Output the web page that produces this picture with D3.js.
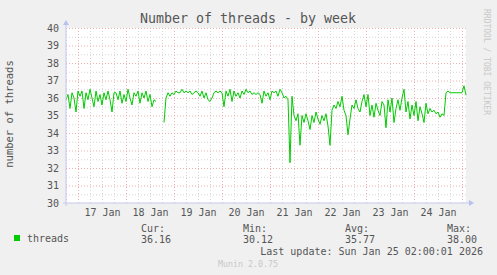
<!DOCTYPE html>
<script src="https://d3js.org/d3.v7.min.js"></script>

<html lang="en">
<head>
  <meta charset="utf-8">
  <title>Number of threads - by week</title>
</head>
<body>
</body>
</html>

<style media="screen">
* {
  margin: 0;
  padding: 0;
}
body {
  background: #f0f0f0;
  font-family: 'DejaVu Sans Mono', monospace;
}
.grid .domain { display: none; }
.grid text { display: none; }
</style>

<script>
let w = 497;
let h = 275;
let plotLeft = 66, plotRight = 466, plotTop = 28, plotBottom = 203;

// hourly samples, starting Fri Jan 16 18:00 (null = no data)
let startTime = new Date(2026, 0, 16, 18, 0, 0);
let endTime = new Date(2026, 0, 25, 2, 0, 0);
let threads = [
  35.9, 36.2, 35.4, 36.3, 36.0, 35.2, 36.4, 36.1, 36.4, 35.4,
  36.3, 35.9, 36.5, 36.0, 35.5, 36.4, 35.8, 36.2, 35.6, 36.3,
  35.9, 36.4, 35.9, 35.2, 36.3, 36.3, 35.9, 36.4, 35.7, 36.2,
  35.8, 36.5, 36.0, 35.6, 36.3, 36.1, 36.4, 35.7, 36.3, 36.0,
  36.4, 35.8, 36.2, 35.5, 35.9, 35.8, null, null, null, 34.6,
  36.0, 36.3, 36.1, 36.3, 36.2, 36.4, 36.3, 36.3, 36.5, 36.3,
  36.4, 36.3, 36.4, 36.2, 36.3, 36.4, 36.3, 36.1, 36.4, 36.0,
  36.3, 35.9, 35.8, 36.0, 36.3, 36.4, 36.3, 36.4, 36.3, 35.5,
  36.4, 36.1, 36.5, 35.8, 36.4, 36.1, 36.3, 36.0, 36.4, 36.2,
  36.5, 36.3, 36.4, 36.2, 36.3, 36.2, 36.3, 36.2, 35.7, 36.4,
  36.1, 36.3, 35.9, 36.4, 36.3, 36.4, 36.1, 36.5, 36.3, 36.0,
  36.1, 35.9, 32.3, 36.1, 35.0, 34.7, 35.1, 33.3, 35.0, 34.6,
  35.1, 34.7, 34.2, 35.0, 34.6, 35.2, 34.8, 34.5, 35.0, 34.7,
  35.1, 34.4, 33.3, 35.3, 35.6, 35.4, 35.8, 35.5, 36.1, 35.3,
  35.0, 33.9, 34.8, 35.6, 35.4, 35.9, 35.4, 35.2, 35.8, 36.2,
  35.5, 36.2, 35.0, 35.6, 34.9, 35.7, 35.3, 35.0, 35.8, 35.6,
  34.3, 35.9, 35.2, 36.0, 34.6, 35.4, 35.9, 35.3, 36.0, 36.5,
  35.2, 35.8, 34.8, 35.6, 35.0, 35.8, 34.7, 35.5, 35.1, 34.6,
  35.7, 35.1, 35.4, 35.2, 35.3, 35.1, 35.2, 34.9, 35.1, 35.0,
  36.3, 36.4, 36.3, 36.3, 36.3, 36.3, 36.3, 36.3, 36.3, 36.7,
  36.16
];

let days = [17, 18, 19, 20, 21, 22, 23, 24];
let yTicks = [30, 31, 32, 33, 34, 35, 36, 37, 38, 39, 40];
let statLabels = ["Cur:", "Min:", "Avg:", "Max:"];
let statValues = ["36.16", "30.12", "35.77", "38.00"];

let xScale = d3.scaleTime().domain([startTime, endTime]).range([plotLeft, plotRight]);
let yScale = d3.scaleLinear().domain([30, 40]).range([plotBottom, plotTop]);

let svg = d3.select("body")
  .append("svg")
    .attr("width", w)
    .attr("height", h)
    .style("display", "block");

svg.append("rect")
  .attr("width", w).attr("height", h).attr("fill", "#f0f0f0");

svg.append("rect")
  .attr("x", plotLeft).attr("y", plotTop)
  .attr("width", plotRight - plotLeft).attr("height", plotBottom - plotTop)
  .attr("fill", "#fff");

// minor grid (every 6h / every 0.5)
let minorX = d3.timeHour.every(6).range(startTime, endTime).filter(d => d.getHours() != 0);
svg.append("g").attr("class", "grid")
  .attr("transform", "translate(0," + plotBottom + ")")
  .call(d3.axisTop(xScale).tickValues(minorX).tickSize(plotBottom - plotTop))
  .call(g => g.selectAll("line").attr("stroke", "#d4d4d4").attr("stroke-dasharray", "1,2"));

let minorY = yTicks.slice(0, -1).map(v => v + 0.5);
svg.append("g").attr("class", "grid")
  .attr("transform", "translate(" + plotLeft + ",0)")
  .call(d3.axisRight(yScale).tickValues(minorY).tickSize(plotRight - plotLeft))
  .call(g => g.selectAll("line").attr("stroke", "#d4d4d4").attr("stroke-dasharray", "1,2"));

// major grid (midnight / integers)
let midnights = days.concat([25]).map(d => new Date(2026, 0, d));
svg.append("g").attr("class", "grid")
  .attr("transform", "translate(0," + plotBottom + ")")
  .call(d3.axisTop(xScale).tickValues(midnights).tickSize(plotBottom - plotTop))
  .call(g => g.selectAll("line").attr("stroke", "#eeb0b0").attr("stroke-dasharray", "1,2"));

svg.append("g").attr("class", "grid")
  .attr("transform", "translate(" + plotLeft + ",0)")
  .call(d3.axisRight(yScale).tickValues(yTicks.slice(1)).tickSize(plotRight - plotLeft))
  .call(g => g.selectAll("line").attr("stroke", "#eeb0b0").attr("stroke-dasharray", "1,2"));

// data line
let line = d3.line()
  .defined(d => d != null)
  .x((d, i) => xScale(d3.timeHour.offset(startTime, i)))
  .y(d => yScale(d));

svg.append("path")
  .datum(threads)
  .attr("d", line)
  .attr("fill", "none")
  .attr("stroke", "#00cc00")
  .attr("stroke-width", 1);

// axes lines + arrows
svg.append("line")
  .attr("x1", plotLeft).attr("x2", plotLeft).attr("y1", plotBottom + 3).attr("y2", plotTop - 4)
  .attr("stroke", "#c8c8f0");
svg.append("path")
  .attr("d", "M" + (plotLeft - 3) + "," + (plotTop - 3) + "L" + (plotLeft + 3) + "," + (plotTop - 3) + "L" + plotLeft + "," + (plotTop - 8) + "Z")
  .attr("fill", "#b8c0f0");
svg.append("line")
  .attr("x1", plotLeft - 3).attr("x2", plotRight + 4).attr("y1", plotBottom).attr("y2", plotBottom)
  .attr("stroke", "#c8c8f0");
svg.append("path")
  .attr("d", "M" + (plotRight + 3) + "," + (plotBottom - 3) + "L" + (plotRight + 3) + "," + (plotBottom + 3) + "L" + (plotRight + 8) + "," + plotBottom + "Z")
  .attr("fill", "#b8c0f0");

// tick labels
svg.append("g")
  .attr("transform", "translate(" + (plotLeft - 7) + ",0)")
  .call(d3.axisLeft(yScale).tickValues(yTicks).tickSize(0).tickPadding(0))
  .call(g => g.select(".domain").remove())
  .call(g => g.selectAll("text")
    .attr("font-family", "'DejaVu Sans Mono', monospace")
    .attr("font-size", 10)
    .attr("fill", "#555"));

let noons = days.map(d => new Date(2026, 0, d, 12));
svg.append("g")
  .attr("transform", "translate(0," + (plotBottom + 6) + ")")
  .call(d3.axisBottom(xScale).tickValues(noons).tickSize(0).tickPadding(0)
    .tickFormat(d3.timeFormat("%d Jan")))
  .call(g => g.select(".domain").remove())
  .call(g => g.selectAll("text")
    .attr("font-family", "'DejaVu Sans Mono', monospace")
    .attr("font-size", 10)
    .attr("fill", "#555"));

// title & labels
svg.append("text")
  .text("Number of threads - by week")
  .attr("x", 248).attr("y", 23)
  .attr("text-anchor", "middle")
  .attr("font-size", 13.3)
  .attr("fill", "#555");

svg.append("text")
  .text("number of threads")
  .attr("transform", "translate(13,114) rotate(-90)")
  .attr("text-anchor", "middle")
  .attr("font-size", 10.5)
  .attr("fill", "#555");

svg.append("text")
  .text("RRDTOOL / TOBI OETIKER")
  .attr("transform", "translate(484,9) rotate(90)")
  .attr("text-anchor", "start")
  .attr("font-size", 8)
  .attr("fill", "#c8c8c8");

// legend
svg.append("rect")
  .attr("x", 14).attr("y", 235).attr("width", 6).attr("height", 6)
  .attr("fill", "#00cc00");
svg.append("text")
  .text("threads")
  .attr("x", 27).attr("y", 242)
  .attr("font-size", 10).attr("fill", "#555");

let statX = [141, 243, 345, 447];
statLabels.forEach((s, i) => {
  svg.append("text").text(s)
    .attr("x", statX[i]).attr("y", 232)
    .attr("font-size", 10).attr("fill", "#555");
  svg.append("text").text(statValues[i])
    .attr("x", statX[i]).attr("y", 242.5)
    .attr("font-size", 10).attr("fill", "#555");
});

svg.append("text")
  .text("Last update: Sun Jan 25 02:00:01 2026")
  .attr("x", 483).attr("y", 254.5)
  .attr("text-anchor", "end")
  .attr("font-size", 10).attr("fill", "#555");

svg.append("text")
  .text("Munin 2.0.75")
  .attr("x", 248).attr("y", 266.5)
  .attr("text-anchor", "middle")
  .attr("font-size", 8.3).attr("fill", "#c8c8c8");
</script>
